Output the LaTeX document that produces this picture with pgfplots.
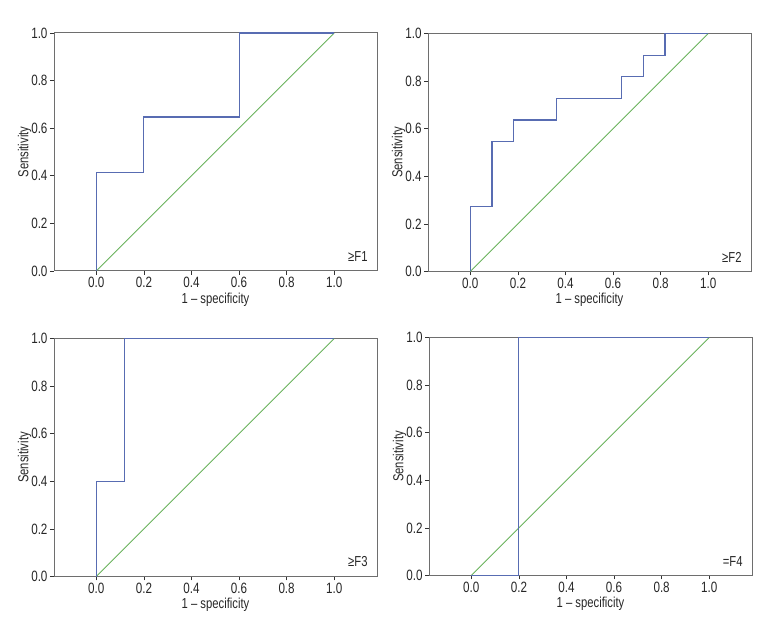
\documentclass[border=0pt]{standalone}
\usepackage{pgfplots}
\pgfplotsset{compat=1.18}
\usepackage{fontspec}
\setmainfont{Liberation Sans}[FakeStretch=0.78]
\definecolor{rocblue}{RGB}{88,108,178}
\definecolor{rocgreen}{RGB}{105,178,92}
\definecolor{framegray}{RGB}{110,110,110}
\tikzset{flab/.style={anchor=south east, font=\fontsize{14.5}{16}\selectfont, text=black!85}}
\pgfplotsset{
  rocstyle/.style={
    scale only axis, width=323bp, height=238bp,
    xmin=-0.178, xmax=1.18, ymin=0, ymax=1,
    xtick={0,0.2,...,1.0}, ytick={0,0.2,...,1.0},
    /pgf/number format/fixed, /pgf/number format/fixed zerofill, /pgf/number format/precision=1,
    /pgf/number format/assume math mode=true,
    tick align=outside, tick pos=left, major tick length=4bp,
    axis line style={framegray, line width=1pt},
    tick style={black!80, line width=0.7pt},
    xticklabel style={font=\fontsize{15}{16}\selectfont, text=black!85, yshift=1bp},
    yticklabel style={font=\fontsize{15}{16}\selectfont, text=black!85, xshift=1bp},
    label style={font=\fontsize{14.5}{16}\selectfont, text=black!85},
    xlabel={1 -- specificity}, ylabel={Sensitivity},
    xlabel style={yshift=2bp},
    ylabel style={yshift=-7bp},
    clip=false,
  },
  roc/.style={rocblue, line width=1.1pt},
  diag/.style={rocgreen, line width=0.9pt},
}
\begin{document}
\begin{tikzpicture}
\path[use as bounding box] (0,0) rectangle (780bp,636bp);
% Panel 1
\begin{axis}[rocstyle, anchor=south west, at={(54bp,365bp)}]
\addplot[diag] coordinates {(0,0) (1,1)};
\addplot[roc] coordinates {(0,0) (0,0.412) (0.2,0.412) (0.2,0.647) (0.6,0.647) (0.6,1) (1,1)};
\node[flab] at (axis cs:1.155,0.025) {≥F1};
\end{axis}
% Panel 2
\begin{axis}[rocstyle, anchor=south west, at={(428bp,364.5bp)}]
\addplot[diag] coordinates {(0,0) (1,1)};
\addplot[roc] coordinates {(0,0) (0,0.2727) (0.0909,0.2727) (0.0909,0.5455) (0.1818,0.5455) (0.1818,0.6364) (0.3636,0.6364) (0.3636,0.7273) (0.6364,0.7273) (0.6364,0.8182) (0.7273,0.8182) (0.7273,0.9091) (0.8182,0.9091) (0.8182,1) (1,1)};
\node[flab] at (axis cs:1.155,0.025) {≥F2};
\end{axis}
% Panel 3
\begin{axis}[rocstyle, anchor=south west, at={(54bp,59.5bp)}]
\addplot[diag] coordinates {(0,0) (1,1)};
\addplot[roc] coordinates {(0,0) (0,0.4) (0.118,0.4) (0.118,1) (1,1)};
\node[flab] at (axis cs:1.155,0.025) {≥F3};
\end{axis}
% Panel 4
\begin{axis}[rocstyle, anchor=south west, at={(429bp,60.5bp)}]
\addplot[diag] coordinates {(0,0) (1,1)};
\addplot[roc] coordinates {(0,0) (0.2,0) (0.2,1) (1,1)};
\node[flab] at (axis cs:1.155,0.025) {=F4};
\end{axis}
\end{tikzpicture}
\end{document}
